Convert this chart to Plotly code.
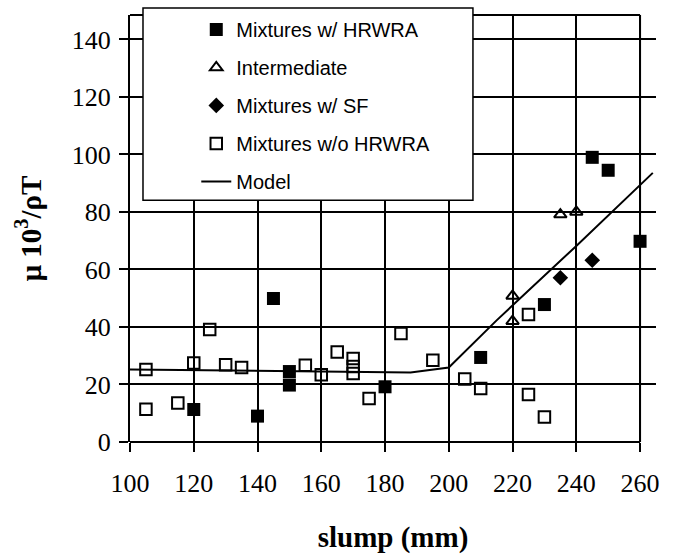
import plotly.graph_objects as go

# ---- data ----
hrwra_x = [120, 140, 145, 150, 150, 180, 210, 230, 245, 250, 260]
hrwra_y = [11.3, 9.0, 49.9, 24.5, 19.8, 19.2, 29.4, 47.8, 99.0, 94.5, 69.8]

inter_x = [220, 220, 235, 240]
inter_y = [50.8, 42.0, 79.1, 80.0]

sf_x = [235, 245]
sf_y = [57.1, 63.2]

wo_x = [105, 105, 115, 120, 125, 130, 135, 155, 160, 165, 170, 170, 170,
        175, 185, 195, 205, 210, 225, 225, 230]
wo_y = [25.2, 11.4, 13.6, 27.5, 39.1, 26.9, 25.9, 26.7, 23.4, 31.3, 29.0,
        26.3, 23.8, 15.1, 37.7, 28.4, 21.9, 18.6, 44.3, 16.5, 8.7]

model_x = [100, 160, 188, 200, 215, 240, 264]
model_y = [25.2, 24.6, 24.2, 25.9, 42.3, 68.2, 93.6]

x_ticks = [100, 120, 140, 160, 180, 200, 220, 240, 260]
y_ticks = [0, 20, 40, 60, 80, 100, 120, 140]

X_MIN, X_END, X_MAX = 100, 260, 265
Y_MIN, Y_MAX = 0, 148.5

fig = go.Figure()

fig.add_trace(go.Scatter(
    x=hrwra_x, y=hrwra_y, mode="markers", name="Mixtures w/ HRWRA",
    legendgroup="a",
    marker=dict(symbol="square", size=13, color="black",
                line=dict(color="black", width=0))))
fig.add_trace(go.Scatter(
    x=inter_x, y=inter_y, mode="markers", name="Intermediate",
    legendgroup="b",
    marker=dict(symbol="triangle-up-open", size=11, color="black",
                line=dict(color="black", width=2))))
fig.add_trace(go.Scatter(
    x=sf_x, y=sf_y, mode="markers", name="Mixtures w/ SF",
    legendgroup="c",
    marker=dict(symbol="diamond", size=12, color="black")))
fig.add_trace(go.Scatter(
    x=wo_x, y=wo_y, mode="markers", name="Mixtures w/o HRWRA",
    legendgroup="d",
    marker=dict(symbol="square-open", size=11.5, color="black",
                line=dict(color="black", width=2))))
fig.add_trace(go.Scatter(
    x=model_x, y=model_y, mode="lines", name="Model",
    legendgroup="e",
    line=dict(color="black", width=2)))

frac = (X_END - X_MIN) / (X_MAX - X_MIN)
frame = dict(color="black", width=2)
shapes = [
    # legend box
    dict(type="rect", xref="paper", yref="paper", x0=0.0247, x1=0.652,
         y0=0.5664, y1=1.0164, fillcolor="white",
         line=dict(color="black", width=1.5), layer="above"),
    # frame lines
    dict(type="line", xref="paper", yref="paper", x0=0, x1=frac, y0=0, y1=0,
         line=frame, layer="above"),
    dict(type="line", xref="paper", yref="paper", x0=frac, x1=frac, y0=0, y1=1,
         line=frame, layer="above"),
    dict(type="line", xref="paper", yref="paper", x0=0, x1=frac, y0=1, y1=1,
         line=frame, layer="below"),
]

serif = "Liberation Serif"

fig.update_layout(
    width=676, height=554,
    margin=dict(l=130, r=20, t=15, b=112, pad=0, autoexpand=False),
    paper_bgcolor="white", plot_bgcolor="white",
    showlegend=True,
    shapes=shapes,
    legend=dict(
        x=0.126, y=1.012, xanchor="left", yanchor="top",
        bgcolor="rgba(0,0,0,0)", borderwidth=0,
        font=dict(family="Liberation Sans", size=20, color="black"),
        tracegroupgap=9, traceorder="grouped",
    ),
    xaxis=dict(
        range=[X_MIN, X_MAX], tickvals=x_ticks, ticktext=[str(v) for v in x_ticks],
        showgrid=True, gridcolor="black", gridwidth=1.5,
        zeroline=False, showline=False, automargin=False,
        ticks="outside", ticklen=9, tickwidth=1.5, tickcolor="black",
        ticklabelstandoff=9,
        tickfont=dict(family=serif, size=26, color="black"),
        title=dict(text="<b>slump (mm)</b>",
                   font=dict(family=serif, size=29, color="black"),
                   standoff=34),
    ),
    yaxis=dict(
        range=[Y_MIN, Y_MAX], tickvals=y_ticks, ticktext=[str(v) for v in y_ticks],
        showgrid=True, gridcolor="black", gridwidth=1.5,
        zeroline=False, showline=True, linecolor="black", linewidth=2,
        automargin=False,
        ticks="outside", ticklen=9, tickwidth=1.5, tickcolor="black",
        ticklabelstandoff=3,
        tickfont=dict(family=serif, size=26, color="black"),
        title=dict(text="<b>μ 10<sup>3</sup>/ρT</b>",
                   font=dict(family=serif, size=29, color="black"),
                   standoff=22),
    ),
)

fig.write_html("out.html")
